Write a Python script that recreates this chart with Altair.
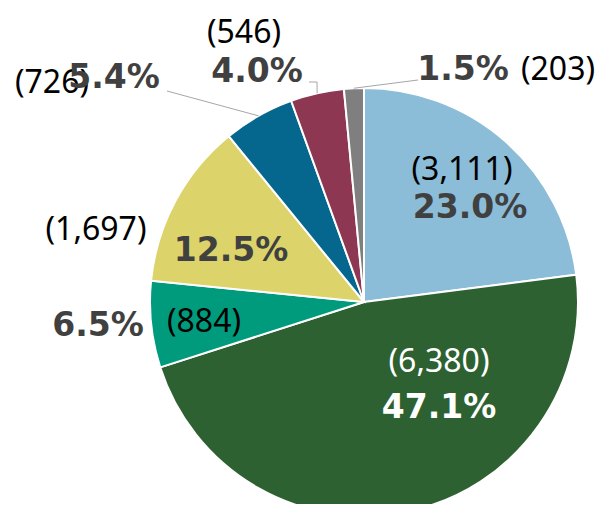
import math
import altair as alt
import pandas as pd

# ---- data ----
categories = ["A", "B", "C", "D", "E", "F", "G"]
counts = [3111, 6380, 884, 1697, 726, 546, 203]
pct_labels = ["23.0%", "47.1%", "6.5%", "12.5%", "5.4%", "4.0%", "1.5%"]
count_labels = ["(3,111)", "(6,380)", "(884)", "(1,697)", "(726)", "(546)", "(203)"]
colors = ["#8BBCD8", "#2E6131", "#009B7C", "#DCD36B", "#05668E", "#8E3753", "#7F7F7F"]

# ---- layout (style) ----
CX, CY, R = 356, 294, 214
count_pos = [(454, 162), (431, 354), (196, 314), (88, 222), (44, 75), (236, 25), (550, 62)]
pct_pos = [(462, 200), (431, 400), (90, 318), (223, 243), (106, 70), (249, 64), (455, 62)]
count_color = ["#000000", "#FFFFFF", "#000000", "#000000", "#000000", "#000000", "#000000"]
pct_color = ["#404040", "#FFFFFF", "#404040", "#404040", "#404040", "#404040", "#404040"]
# leader start points (label side) for the small outside slices
leader_start = {4: [(159, 83)], 5: [(301, 74), (309, 74)], 6: [(410, 72)]}

total = sum(counts)
cum = 0.0
mid_angles = []
for v in counts:
    mid_angles.append((cum + v / 2) / total * 2 * math.pi)
    cum += v

pie_df = pd.DataFrame({"cat": categories, "value": counts, "idx": list(range(len(counts)))})

arcs = alt.Chart(pie_df).mark_arc(radius=R, stroke="white", strokeWidth=2).encode(
    theta=alt.Theta("value:Q", stack=True),
    color=alt.Color("cat:N", scale=alt.Scale(domain=categories, range=colors), legend=None),
    order=alt.Order("idx:Q"),
    x=alt.value(CX),
    y=alt.value(CY),
)

# leader lines: from label to the arc edge at the slice's mid angle
rows = []
for i, pts in leader_start.items():
    a = mid_angles[i]
    end = (CX + R * math.sin(a), CY - R * math.cos(a))
    seq = pts + [end]
    for k, (px, py) in enumerate(seq):
        rows.append({"lid": i, "k": k, "x": px, "y": py})
lead_df = pd.DataFrame(rows)
leaders = alt.Chart(lead_df).mark_line(color="#A6A6A6", strokeWidth=1).encode(
    x=alt.X("x:Q", scale=None),
    y=alt.Y("y:Q", scale=None),
    detail="lid:N",
    order="k:Q",
)

cnt_df = pd.DataFrame({
    "label": count_labels,
    "x": [p[0] for p in count_pos],
    "y": [p[1] for p in count_pos],
    "c": count_color,
})
pct_df = pd.DataFrame({
    "label": pct_labels,
    "x": [p[0] for p in pct_pos],
    "y": [p[1] for p in pct_pos],
    "c": pct_color,
})

cnt_text = alt.Chart(cnt_df).mark_text(
    font="Noto Sans", fontSize=32, align="center", baseline="middle"
).encode(
    x=alt.X("x:Q", scale=None),
    y=alt.Y("y:Q", scale=None),
    text="label:N",
    color=alt.Color("c:N", scale=None),
)

pct_text = alt.Chart(pct_df).mark_text(
    font="DejaVu Sans", fontSize=33, fontWeight="bold", align="center", baseline="middle"
).encode(
    x=alt.X("x:Q", scale=None),
    y=alt.Y("y:Q", scale=None),
    text="label:N",
    color=alt.Color("c:N", scale=None),
)

chart = alt.layer(arcs, leaders, cnt_text, pct_text).resolve_scale(color="independent").properties(
    width=591, height=496, padding=0, autosize=alt.AutoSizeParams(type="none"),
    background="white",
).configure_view(strokeWidth=0)

chart.save("out.html", embed_options={"renderer": "svg", "actions": False})
